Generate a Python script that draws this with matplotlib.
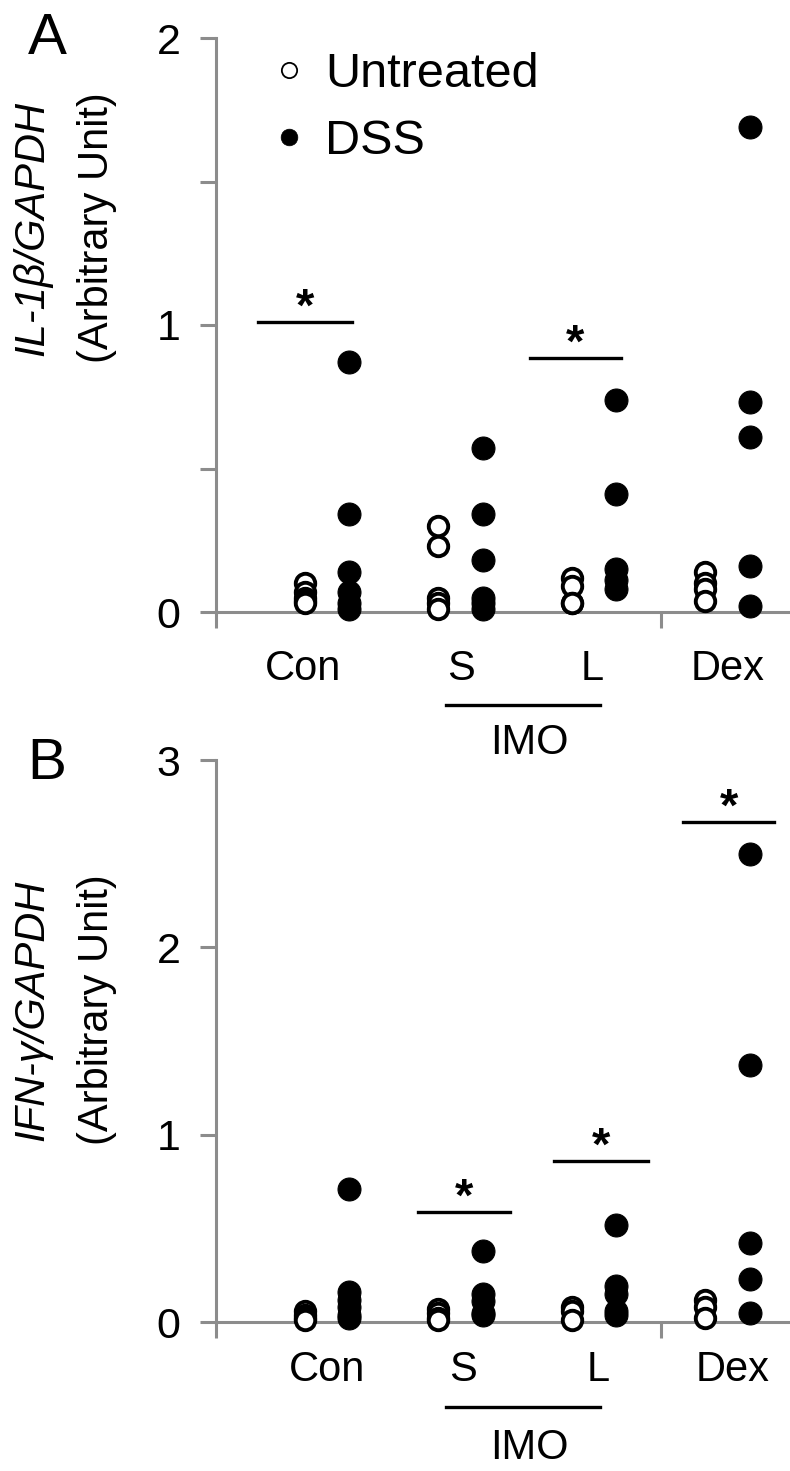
import matplotlib.pyplot as plt
from matplotlib.lines import Line2D

plt.rcParams['font.family'] = ['Liberation Sans', 'DejaVu Sans']

groups = ['Con', 'S', 'L', 'Dex']
x_untreated = [2, 5, 8, 11]
x_dss = [3, 6, 9, 12]

# IL-1beta / GAPDH
il1b_untreated = [[0.10, 0.07, 0.05, 0.04, 0.03],
                  [0.30, 0.23, 0.05, 0.03, 0.01],
                  [0.12, 0.09, 0.03, 0.03],
                  [0.14, 0.10, 0.08, 0.04]]
il1b_dss = [[0.87, 0.34, 0.14, 0.07, 0.03, 0.01],
            [0.57, 0.34, 0.18, 0.05, 0.03, 0.01],
            [0.74, 0.41, 0.15, 0.11, 0.08],
            [1.69, 0.73, 0.61, 0.16, 0.02]]
il1b_sig = [(0.95, 3.05, 1.01), (7.05, 9.1, 0.885)]
il1b_label_x = [1.95, 5.5, 8.45, 11.5]

# IFN-gamma / GAPDH
ifng_untreated = [[0.06, 0.04, 0.02, 0.01],
                  [0.07, 0.05, 0.02, 0.01],
                  [0.08, 0.06, 0.01],
                  [0.12, 0.08, 0.02]]
ifng_dss = [[0.71, 0.16, 0.12, 0.08, 0.04, 0.02],
            [0.38, 0.15, 0.11, 0.05, 0.04],
            [0.52, 0.19, 0.15, 0.06, 0.04],
            [2.50, 1.37, 0.42, 0.23, 0.05]]
ifng_sig = [(4.55, 6.6, 0.585), (7.6, 9.7, 0.86), (10.5, 12.55, 2.67)]
ifng_label_x = [2.5, 5.55, 8.6, 11.6]

W, H = 790, 1471
GRAY = '#8c8c8c'
fig = plt.figure(figsize=(W / 100, H / 100), dpi=100)


def px_axes(left, top, right, bottom):
    return fig.add_axes([left / W, 1 - bottom / H, (right - left) / W, (bottom - top) / H])


def draw_panel(ax, untreated, dss, ymax, yticks, yticklabels, sig, label_x, label_y,
               imo_line_y, imo_text_y):
    for i in range(len(groups)):
        ax.plot([x_dss[i]] * len(dss[i]), dss[i], 'o', ls='none', mfc='black', mec='black',
                ms=16.5, mew=0.8, clip_on=False, zorder=3)
        ax.plot([x_untreated[i]] * len(untreated[i]), untreated[i], 'o', ls='none',
                mfc='white', mec='black', ms=14, mew=2.8, clip_on=False, zorder=3)
    ax.set_xlim(0, 12.9)
    ax.set_ylim(0, ymax)
    for s in ['top', 'right']:
        ax.spines[s].set_visible(False)
    for s in ['left', 'bottom']:
        ax.spines[s].set_color(GRAY)
        ax.spines[s].set_linewidth(2.2)
    ax.set_yticks(yticks, yticklabels)
    ax.set_xticks([0, 10], ['', ''])
    ax.tick_params(axis='both', direction='out', length=11.5, width=2.2, color=GRAY)
    ax.tick_params(axis='y', pad=14, labelsize=31)

    for x0, x1, y in sig:
        ax.plot([x0, x1], [y, y], color='black', lw=2.4, clip_on=False)
        ax.annotate('*', xy=((x0 + x1) / 2, y), xytext=(0, 1), textcoords='offset points',
                    ha='center', va='baseline', fontsize=34, fontweight='bold',
                    annotation_clip=False)

    for lx, name in zip(label_x, groups):
        ax.text(lx, label_y, name, ha='center', va='center', fontsize=30, clip_on=False)
    ax.plot([5.17, 8.62], [imo_line_y, imo_line_y], color='black', lw=2.4, clip_on=False)
    ax.text(7.05, imo_text_y, 'IMO', ha='center', va='center', fontsize=30, clip_on=False)


axA = px_axes(216, 38, 790, 612)
draw_panel(axA, il1b_untreated, il1b_dss, 2, [0, 0.5, 1, 1.5, 2], ['0', '', '1', '', '2'],
           il1b_sig, il1b_label_x, -0.199, -0.324, -0.456)

handles = [Line2D([], [], marker='o', ls='none', mfc='white', mec='black', ms=11, mew=1.3),
           Line2D([], [], marker='o', ls='none', mfc='black', mec='black', ms=12, mew=0.5)]
axA.legend(handles, ['Untreated', 'DSS'], loc='upper left', bbox_to_anchor=(0.084, 0.976),
           frameon=False, fontsize=35, handlelength=1.0, handletextpad=0.25,
           labelspacing=0.45, borderpad=0, borderaxespad=0)

axB = px_axes(216, 760, 790, 1322)
draw_panel(axB, ifng_untreated, ifng_dss, 3, [0, 1, 2, 3], ['0', '1', '2', '3'],
           ifng_sig, ifng_label_x, -0.256, -0.454, -0.673)

# panel letters and y labels
fig.text(47 / W, 1 - 39 / H, 'A', ha='center', va='center', fontsize=42)
fig.text(47 / W, 1 - 764 / H, 'B', ha='center', va='center', fontsize=42)

fig.text(32 / W, 1 - 228 / H, 'IL-1β/GAPDH', rotation=90, style='italic',
         ha='center', va='center', fontsize=30)
fig.text(97 / W, 1 - 228 / H, '(Arbitrary Unit)', rotation=90,
         ha='center', va='center', fontsize=30)
fig.text(32 / W, 1 - 1010 / H, 'IFN-γ/GAPDH', rotation=90, style='italic',
         ha='center', va='center', fontsize=30)
fig.text(97 / W, 1 - 1010 / H, '(Arbitrary Unit)', rotation=90,
         ha='center', va='center', fontsize=30)

plt.savefig('out.png', dpi=100)
